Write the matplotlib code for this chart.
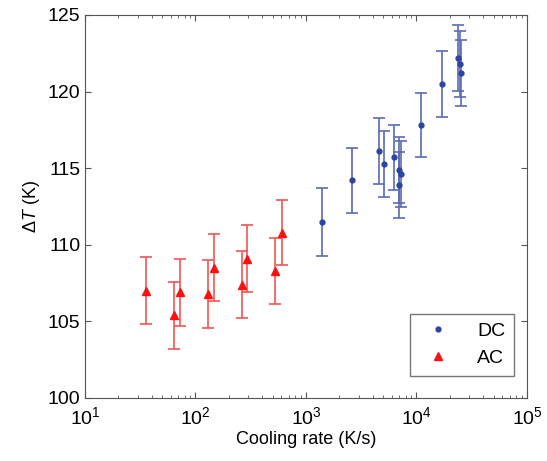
import matplotlib
matplotlib.use('Agg')
import matplotlib.pyplot as plt
from matplotlib.ticker import LogLocator, NullFormatter

plt.rcParams['font.family'] = ['Liberation Sans', 'DejaVu Sans']
plt.rcParams['mathtext.fontset'] = 'custom'
plt.rcParams['mathtext.rm'] = 'Liberation Sans'
plt.rcParams['mathtext.it'] = 'Liberation Sans:italic'

# DC samples
dc_rate = [1406, 2590, 4600, 5050, 6250, 7000, 7200, 6900, 11100, 17100, 23600, 24900, 25300]
dc_dt = [111.5, 114.2, 116.1, 115.3, 115.7, 114.9, 114.6, 113.9, 117.8, 120.5, 122.2, 121.8, 121.2]
dc_err = [2.2, 2.15, 2.15, 2.15, 2.15, 2.15, 2.15, 2.15, 2.1, 2.15, 2.15, 2.15, 2.15]

# AC samples
ac_rate = [36, 64, 72, 129, 148, 263, 294, 524, 607]
ac_dt = [107.0, 105.4, 106.9, 106.8, 108.5, 107.4, 109.1, 108.3, 110.8]
ac_err = [2.2, 2.2, 2.2, 2.2, 2.2, 2.2, 2.2, 2.15, 2.15]

blue = '#2d44a0'
red = '#ff1010'

fig = plt.figure(figsize=(5.47, 4.61), dpi=100)
ax = fig.add_axes([0.1554, 0.1367, 0.808, 0.8308])

ax.errorbar(dc_rate, dc_dt, yerr=dc_err, fmt='.', color=blue, ecolor='#5a6cb4',
            markersize=7, elinewidth=1.2, capsize=4, capthick=1.2, label='DC')
ax.errorbar(ac_rate, ac_dt, yerr=ac_err, fmt='^', color=red, ecolor='#f25555',
            markersize=6, elinewidth=1.2, capsize=4, capthick=1.2, label='AC')

ax.set_xscale('log')
ax.set_xlim(10, 1e5)
ax.set_ylim(100, 125)
ax.set_yticks([100, 105, 110, 115, 120, 125])
ax.xaxis.set_minor_locator(LogLocator(base=10, subs=range(2, 10)))
ax.xaxis.set_minor_formatter(NullFormatter())

ax.tick_params(which='both', direction='in', top=True, right=True, labelsize=14,
               color='#555555')
ax.tick_params(which='major', length=4)
ax.tick_params(which='minor', length=2)
ax.tick_params(axis='x', which='major', pad=6)
for s in ax.spines.values():
    s.set_color('#555555')

ax.set_xlabel('Cooling rate (K/s)', fontsize=13, labelpad=2)
ax.set_ylabel(r'$\Delta\mathit{T}$ (K)', fontsize=13)

handles, labels = ax.get_legend_handles_labels()
handles = [h[0] for h in handles]
leg = ax.legend(handles, labels, loc='lower right', bbox_to_anchor=(0.9706, 0.0574),
                fontsize=14, fancybox=False, edgecolor='#555555', borderaxespad=0,
                handletextpad=1.0, borderpad=0.45, handlelength=2.0)
leg.get_frame().set_linewidth(1.0)

plt.savefig('out.png', dpi=100)
